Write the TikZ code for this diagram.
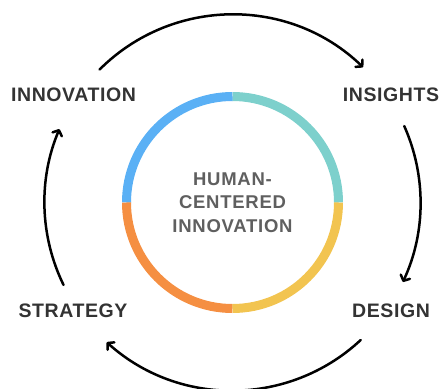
\documentclass[tikz,border=0pt]{standalone}
\usepackage{fontspec}
\setmainfont{Liberation Sans}
\usetikzlibrary{arrows.meta}
\definecolor{ringblue}{RGB}{90,176,245}
\definecolor{ringteal}{RGB}{125,208,204}
\definecolor{ringyellow}{RGB}{242,196,80}
\definecolor{ringorange}{RGB}{245,143,66}
\definecolor{stagegray}{RGB}{51,51,51}
\definecolor{coregray}{RGB}{95,95,95}

\begin{document}
\begin{tikzpicture}[x=1pt,y=1pt,
  stagelabel/.style={font=\fontsize{19.5}{23.5}\selectfont\bfseries\addfontfeature{LetterSpace=3}, text=stagegray},
  ringseg/.style={line width=9pt},
  looparrow/.style={line width=2.5pt, line cap=round, -{Straight Barb[length=4.5pt,width=10pt,round]}}]
\useasboundingbox (-232.5,-185.5) rectangle (208.5,202.5);

% colour ring
\draw[ringseg, ringteal] (0:106) arc[start angle=0, end angle=90, radius=106];
\draw[ringseg, ringblue] (90:106) arc[start angle=90, end angle=180, radius=106];
\draw[ringseg, ringorange] (180:106) arc[start angle=180, end angle=270, radius=106];
\draw[ringseg, ringyellow] (270:106) arc[start angle=270, end angle=360, radius=106];

\node[stagelabel, font=\fontsize{18.5}{23.5}\selectfont\bfseries\addfontfeature{LetterSpace=4}, text=coregray, align=center] (core) at (0,0) {HUMAN-\\CENTERED\\INNOVATION};

\node[stagelabel] (innovation) at (-159,108) {INNOVATION};
\node[stagelabel] (insights) at (158.5,108) {INSIGHTS};
\node[stagelabel] (design) at (158.5,-108.5) {DESIGN};
\node[stagelabel] (strategy) at (-159.5,-108.5) {STRATEGY};

% arrows round the ring
\coordinate (fromInnovation) at (135:188);
\coordinate (fromInsights) at (24:188);
\coordinate (fromDesign) at (-47:188);
\coordinate (fromStrategy) at (206:188);
\draw[looparrow] (fromInnovation) arc[start angle=135, end angle=46, radius=188];
\draw[looparrow] (fromInsights) arc[start angle=24, end angle=-25, radius=188];
\draw[looparrow] (fromDesign) arc[start angle=-47, end angle=-132, radius=188];
\draw[looparrow] (fromStrategy) arc[start angle=206, end angle=157, radius=188];
\end{tikzpicture}
\end{document}
